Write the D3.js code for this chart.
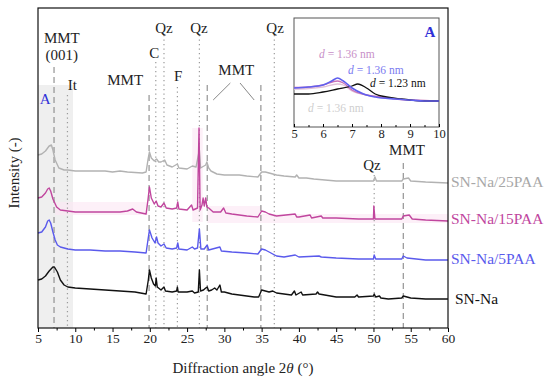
<!DOCTYPE html>
<html><head><meta charset="utf-8">
<script src="https://cdn.jsdelivr.net/npm/d3@7"></script>
<style>body{margin:0;background:#fff}svg{display:block}svg text{font-family:"Liberation Serif","Times New Roman","DejaVu Serif",serif !important}</style>
</head><body><svg id="c" width="550" height="381" font-family="Liberation Serif, Times New Roman, serif"></svg>
<script>
// ---- data: [2theta, intensity (offset a.u.)] ----
const seriesNames = ["SN-Na", "SN-Na/5PAA", "SN-Na/15PAA", "SN-Na/25PAA"];
const seriesColors = ["#111111", "#5a5aec", "#c0469e", "#b2b2b2"];
const labelColors = ["#111111", "#5a5aec", "#c0469e", "#a8a8a8"];

const snNa = [[5,48],[5.5,49],[6,52],[6.5,57],[7,61],[7.2,61],[7.6,56],[8,48],[8.5,43],[9,41],[10,40],[12,39],[14,38],[16,37],[18,36],[19.5,34],[19.8,48],[19.95,58],[20.2,50],[20.5,44],[20.75,42],[20.85,50],[21,41],[21.5,38],[21.9,41],[22.1,37],[23,36],[23.6,37],[23.7,41],[23.8,36],[25,36],[25.7,37],[26,35],[26.5,36],[26.65,58],[26.8,37],[27.2,38],[27.5,40],[27.7,41],[27.9,37],[28.3,38],[28.7,40],[29,38],[29.4,43],[29.6,36],[30,36],[31,34],[32,33],[33,32],[34,31],[34.6,31],[35,38],[35.5,37],[36,36],[36.5,37],[37,35],[38,34],[39,33],[39.4,37],[39.6,33],[40.3,36],[40.5,33],[42.3,34],[42.5,36],[42.7,34],[45,31],[47.5,31],[47.8,33],[48,31],[50,32],[50.1,34],[50.3,31],[50.8,32],[51,30],[52,29],[53.8,30],[54,32],[54.5,31],[55,30],[57,29],[60,29]];
const pAA5 = [[5,95],[5.5,96],[6,101],[6.3,107],[6.5,108],[6.7,105],[7,96],[7.3,88],[7.6,83],[8,81],[9,79],[10,78],[12,78],[14,77],[16,77],[18,76],[19.5,75],[19.75,88],[19.95,98],[20.3,90],[20.7,85],[20.9,91],[21.1,85],[21.5,82],[21.9,84],[22.2,80],[23,79],[23.6,80],[23.75,85],[23.9,79],[25,78],[25.7,81],[26,79],[26.4,80],[26.65,99],[26.85,79],[27.3,79],[27.7,83],[27.9,78],[29.4,81],[29.6,77],[31,76],[33,75],[34.5,74],[35,79],[35.5,78],[36,76],[37,72],[38,71],[39.5,73],[40,71],[42.7,72],[43,71],[45,70],[48,69],[50,69],[50.1,73],[50.3,69],[53.8,69],[54,72],[54.5,70],[57,68],[60,68]];
const pAA15 = [[5,130],[5.5,131],[6,135],[6.3,139],[6.5,140],[6.7,137],[7,129],[7.5,121],[8,118],[9,117],[10,116],[12,116],[14,116],[16,116],[17,117],[17.7,119],[18.2,116],[19.5,114],[19.75,128],[19.95,141],[20.2,130],[20.6,124],[20.85,127],[21.1,122],[21.5,121],[21.9,125],[22.2,120],[23,119],[23.6,120],[23.75,126],[23.9,119],[25,118],[25.6,123],[25.8,118],[26.4,120],[26.6,200],[26.75,118],[27,123],[27.15,130],[27.3,122],[27.5,130],[27.65,121],[27.9,120],[28.5,116],[29.5,116],[29.9,120],[30.2,115],[31,114],[33,112],[34.5,111],[35,117],[35.5,116],[36,114],[37,112],[39.5,114],[39.7,111],[40,111],[41.5,113],[41.7,110],[43,112],[43.2,110],[45,110],[48,109],[50,109],[50.05,122],[50.2,109],[51,109],[53.8,109],[54,112],[54.8,113],[55.2,109],[57,108],[60,107]];
const pAA25 = [[5,173],[5.5,174],[6,177],[6.5,182],[6.8,183],[7,178],[7.3,168],[7.8,160],[8.5,158],[9,158],[10,157],[12,157],[14,157],[15,156],[16,157],[17,156],[19,155],[19.5,156],[19.75,168],[19.95,176],[20.2,170],[20.6,167],[20.9,169],[21.2,166],[21.5,166],[22,168],[22.3,163],[23,161],[23.7,164],[23.9,160],[25,159],[25.7,162],[26.2,161],[26.65,178],[26.8,160],[27.5,163],[27.65,166],[27.9,160],[28.2,157],[29,154],[30,153],[31,153],[32,153],[33,152],[34.5,151],[35,156],[35.5,156],[36,155],[37,153],[38,152],[39.5,151],[39.7,153],[40,150],[41,150],[42,149],[45,147],[48,147],[50,147],[50.2,151],[50.4,147],[53.8,147],[54,149],[54.7,150],[55,147],[57,146],[60,145]];
const mainData = [snNa, pAA5, pAA15, pAA25];
const labelY = [29, 69, 109, 146];

// inset curves, 2theta 5-10
const insBlack = [[5,33],[5.5,33],[6,35],[6.5,38],[7,41],[7.2,43],[7.5,39],[7.8,33],[8.2,30],[8.7,28],[9,27],[9.5,26],[10,26]];
const insBlue = [[5,39],[5.5,40],[6,42],[6.3,46],[6.5,49],[6.7,46],[7,39],[7.4,33],[7.8,30],[8.5,28],[9,27],[9.5,26],[10,26]];
const insMag = [[5,39.5],[5.5,40],[6,42],[6.5,46],[6.7,44],[7,37],[7.5,32],[8,30],[8.5,28],[9,27],[10,26]];
const insGray = [[5,38],[5.5,38.5],[6,40],[6.5,43],[6.7,42],[7,36],[7.5,32],[8,30],[9,27],[10,26]];
const insetData = [insBlack, insBlue, insMag, insGray];
const insetColors = ["#111111", "#6060ee", "#c870b8", "#e0c0d8"];

// reference lines [2theta, style, top]
const refLines = [[7.15,"dash",261],[8.95,"dot",233],[19.9,"dash",233],[20.8,"dot",266],[21.9,"dot",293],[23.7,"dot",241],[26.65,"dot",293],[27.7,"dash",243],[34.9,"dash",243],[36.7,"dot",293],[50.1,"dot",153],[54.0,"dash",165]];
// annotations [2theta, yValue, text]
const annos = [[8.2,285,"MMT"],[8.2,268,"(001)"],[9.6,238,"It"],[16.7,243,"MMT"],[20.6,270,"C"],[21.9,295,"Qz"],[23.8,247,"F"],[26.6,295,"Qz"],[31.6,253,"MMT"],[36.8,295,"Qz"],[49.8,158,"Qz"],[54.5,173,"MMT"]];
const xTicks = [5,10,15,20,25,30,35,40,45,50,55,60];
const insetTicks = [5,6,7,8,9,10];

const FF = "Liberation Serif, Times New Roman, serif";
const svg = d3.select("#c");
const m = {l:38, r:448, t:8, b:328};
const x = d3.scaleLinear().domain([5,60]).range([m.l, m.r]);
const y = d3.scaleLinear().domain([0,320]).range([m.b, m.t]);

// gray shade
svg.append("rect").attr("x", x(5)).attr("y", y(243)).attr("width", x(9.7)-x(5)).attr("height", y(0)-y(243)).attr("fill","#efefef");
// pink highlight bands (artefacts in source)
const bands = [[25.7,27.1,106,200],[27.7,35,105,122],[35,60,105,114],[7.3,19.7,113,126]];
bands.forEach(b=>svg.append("rect").attr("x",x(b[0])).attr("y",y(b[3])).attr("width",x(b[1])-x(b[0])).attr("height",y(b[2])-y(b[3])).attr("fill","#fce6f3").attr("opacity",0.6));

// reference lines
refLines.forEach(r=>{
  svg.append("line").attr("x1",x(r[0])).attr("x2",x(r[0])).attr("y1",y(r[2])).attr("y2",y(0))
   .attr("stroke", r[1]==="dash" ? "#8a8a8a" : "#9a9a9a").attr("stroke-width", r[1]==="dash"?1.1:1.2)
   .attr("stroke-dasharray", r[1]==="dash" ? "6,4" : "1.3,3.2");
});

// traces
const line = d3.line().x(d=>x(d[0])).y(d=>y(d[1]));
[3,2,1,0].forEach(i=>{
  svg.append("path").attr("d", line(mainData[i])).attr("fill","none").attr("stroke",seriesColors[i]).attr("stroke-width",1.4).attr("stroke-linejoin","round");
});

// annotations
annos.forEach(a=>svg.append("text").attr("x",x(a[0])).attr("y",y(a[1])).attr("text-anchor","middle").attr("font-family",FF).attr("font-size",15).attr("fill","#222").text(a[2]));
// MMT bracket lines
const br = [[28.5,228,30.8,245],[32.1,245,34,228]];
br.forEach(b=>svg.append("line").attr("x1",x(b[0])).attr("y1",y(b[1])).attr("x2",x(b[2])).attr("y2",y(b[3])).attr("stroke","#888").attr("stroke-width",1));
svg.append("text").attr("x",x(5.95)).attr("y",y(224)).attr("text-anchor","middle").attr("font-family",FF).attr("font-size",15).attr("fill","#3030d8").text("A");

// series labels
seriesNames.forEach((n,i)=>svg.append("text").attr("x", i===0?455:451).attr("y", y(labelY[i])).attr("dy","0.35em").attr("font-family",FF).attr("font-size",15.5).attr("fill",labelColors[i]).text(n));

// frame
svg.append("rect").attr("x",m.l).attr("y",m.t).attr("width",m.r-m.l).attr("height",m.b-m.t).attr("fill","none").attr("stroke","#111").attr("stroke-width",1.2);

// x axis
const xa = svg.append("g").attr("transform",`translate(0,${m.b})`)
  .call(d3.axisBottom(x).tickValues(xTicks).tickSize(4).tickFormat(d3.format("d")));
xa.attr("font-family",FF);
xa.select(".domain").remove();
xa.selectAll("text").attr("font-size",13.5).attr("fill","#222").attr("dy","0.6em");
const minor = d3.range(7.5,60,5);
svg.append("g").attr("transform",`translate(0,${m.b})`).call(d3.axisBottom(x).tickValues(minor).tickSize(2.5).tickFormat(""))
  .select(".domain").remove();

// axis titles
const xt = svg.append("text").attr("x",243).attr("y",373).attr("text-anchor","middle").attr("font-family",FF).attr("font-size",15).attr("fill","#222");
xt.append("tspan").text("Diffraction angle 2");
xt.append("tspan").attr("font-style","italic").text("θ");
xt.append("tspan").text(" (°)");
svg.append("text").attr("transform","translate(19,173) rotate(-90)").attr("text-anchor","middle").attr("font-family",FF).attr("font-size",15).attr("fill","#222").text("Intensity (-)");

// ---- inset ----
const ix = d3.scaleLinear().domain([5,10]).range([294,439]);
const iy = d3.scaleLinear().domain([0,109]).range([127,18]);
const ig = svg.append("g");
ig.append("rect").attr("x",294).attr("y",18).attr("width",145).attr("height",109).attr("fill","#fff").attr("stroke","#555").attr("stroke-width",1);
const iline = d3.line().x(d=>ix(d[0])).y(d=>iy(d[1])).curve(d3.curveMonotoneX);
[3,2,0,1].forEach(i=>ig.append("path").attr("d",iline(insetData[i])).attr("fill","none").attr("stroke",insetColors[i]).attr("stroke-width",i===1?1.6:1.3));
const iax = ig.append("g").attr("transform","translate(0,127)").call(d3.axisBottom(ix).tickValues(insetTicks).tickSize(-3).tickFormat(d3.format("d")));
iax.attr("font-family",FF);
iax.select(".domain").remove();
iax.selectAll("text").attr("font-size",12.5).attr("fill","#222").attr("dy","0.6em");
ig.append("g").attr("transform","translate(0,127)").call(d3.axisBottom(ix).tickValues(d3.range(5.5,10,1)).tickSize(-2).tickFormat("")).select(".domain").remove();
const dl = [[319,69,"#c890c8","1.36"],[348,53,"#7b7bf0","1.36"],[370,40,"#111","1.23"],[308,15,"#cfcfcf","1.36"]];
dl.forEach(d=>{
  const t = ig.append("text").attr("x",d[0]).attr("y",iy(d[1])).attr("font-family",FF).attr("font-size",11.5).attr("fill",d[2]);
  t.append("tspan").attr("font-style","italic").text("d");
  t.append("tspan").text(" = "+d[3]+" nm");
});
ig.append("text").attr("x",430).attr("y",37).attr("text-anchor","middle").attr("font-family",FF).attr("font-size",15).attr("font-weight","bold").attr("fill","#3030d8").text("A");
</script></body></html>
